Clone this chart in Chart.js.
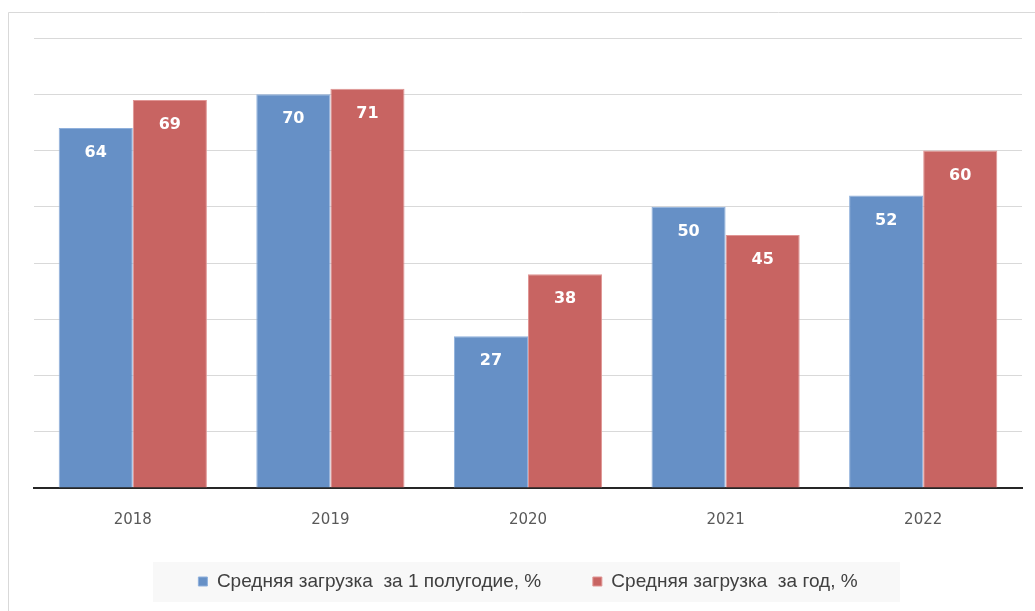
<!DOCTYPE html>
<html>
<head>
<meta charset="utf-8">
<script src="https://cdn.jsdelivr.net/npm/chart.js@4"></script>
<style>
  html, body { margin: 0; padding: 0; background: #fff; }
  #wrap { width: 1035px; height: 611px; position: relative; }
</style>
</head>
<body>
<div id="wrap"><canvas id="myChart"></canvas></div>
<script>
const years = ['2018', '2019', '2020', '2021', '2022'];
const halfYear = [64, 70, 27, 50, 52];
const fullYear = [69, 71, 38, 45, 60];
const seriesNames = ['Средняя загрузка  за 1 полугодие, %', 'Средняя загрузка  за год, %'];

// frame and legend background
const framePlugin = {
    id: 'frame',
    beforeDraw(chart) {
        const ctx = chart.ctx;
        ctx.save();
        ctx.fillStyle = '#fff';
        ctx.fillRect(0, 0, chart.width, chart.height);
        ctx.strokeStyle = '#d9d9d9';
        ctx.lineWidth = 1;
        ctx.beginPath();
        ctx.moveTo(8.5, chart.height);
        ctx.lineTo(8.5, 12.5);
        ctx.lineTo(chart.width, 12.5);
        ctx.stroke();
        // legend box
        ctx.fillStyle = '#f8f8f8';
        ctx.fillRect(153, 562, 747, 40);
        ctx.restore();
    }
};

// white value labels inside the bar tops
const valueLabels = {
    id: 'valueLabels',
    afterDatasetsDraw(chart) {
        const ctx = chart.ctx;
        ctx.save();
        ctx.font = 'bold 16px "DejaVu Sans", Verdana, sans-serif';
        ctx.fillStyle = '#fff';
        ctx.textAlign = 'center';
        ctx.textBaseline = 'middle';
        chart.data.datasets.forEach((ds, i) => {
            chart.getDatasetMeta(i).data.forEach((bar, j) => {
                ctx.fillText(ds.data[j], bar.x, bar.y + 25);
            });
        });
        ctx.restore();
    }
};

const ctx = document.getElementById('myChart').getContext('2d');
new Chart(ctx, {
    type: 'bar',
    data: {
        labels: years,
        datasets: [
            {
                label: seriesNames[0],
                data: halfYear,
                backgroundColor: '#6690c6',
                borderColor: '#8fb0dc',
                borderWidth: 1,
                categoryPercentage: 0.75,
                barPercentage: 1.0
            },
            {
                label: seriesNames[1],
                data: fullYear,
                backgroundColor: '#c86462',
                borderColor: '#e09594',
                borderWidth: 1,
                categoryPercentage: 0.75,
                barPercentage: 1.0
            }
        ]
    },
    options: {
        responsive: true,
        maintainAspectRatio: false,
        animation: false,
        layout: { padding: { left: 34, right: 13, top: 38, bottom: 10 } },
        plugins: {
            tooltip: { enabled: false },
            legend: {
                position: 'bottom',
                labels: {
                    font: { family: '"Liberation Sans", Arial, sans-serif', size: 19 },
                    color: '#404040',
                    boxWidth: 9,
                    boxHeight: 9,
                    padding: 20,
                    // wider gap between the two items, like the original
                    generateLabels(chart) {
                        const items = Chart.defaults.plugins.legend.labels.generateLabels(chart);
                        items[0].text = items[0].text + '      ';
                        return items;
                    }
                }
            }
        },
        scales: {
            x: {
                grid: { display: false, drawTicks: false },
                border: { color: '#262626', width: 2 },
                ticks: {
                    color: '#595959',
                    padding: 23,
                    font: { family: '"DejaVu Sans", Verdana, sans-serif', size: 15 }
                }
            },
            y: {
                min: 0,
                max: 80,
                ticks: { display: false, stepSize: 10 },
                grid: { color: '#d9d9d9', drawTicks: false },
                border: { display: false }
            }
        }
    },
    plugins: [framePlugin, valueLabels]
});
</script>
</body>
</html>
